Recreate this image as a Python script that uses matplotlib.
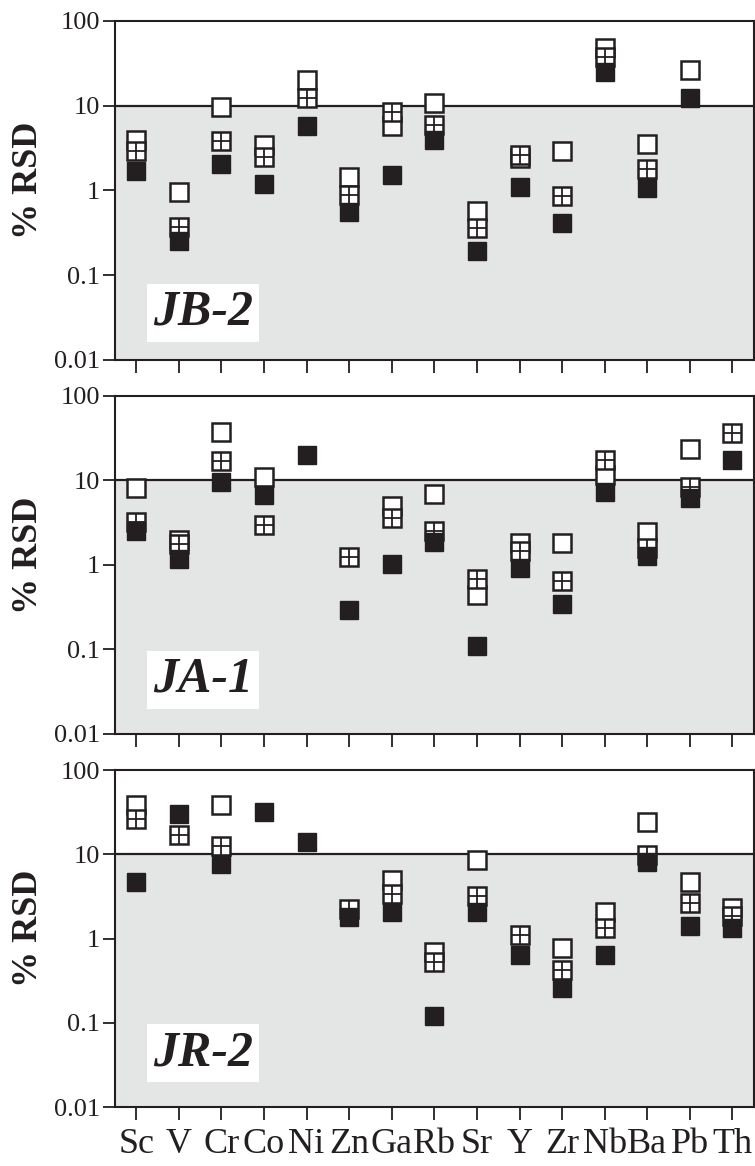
import numpy as np
import matplotlib.pyplot as plt
from matplotlib.ticker import FixedLocator, NullLocator

nan = np.nan

elements = ["Sc", "V", "Cr", "Co", "Ni", "Zn", "Ga", "Rb", "Sr", "Y", "Zr", "Nb", "Ba", "Pb", "Th"]

# %RSD per element, three symbol types (open / crossed / filled square)
jb2_open = [3.9, 0.97, 9.7, 3.4, 20.2, 1.45, 5.8, 10.8, 0.57, 2.4, 2.9, 47.7, 3.5, 26.7, nan]
jb2_plus = [2.9, 0.37, 3.8, 2.5, 12.2, 0.89, 8.4, 5.9, 0.36, 2.6, 0.85, 37.4, 1.8, nan, nan]
jb2_fill = [1.7, 0.25, 2.06, 1.19, 5.8, 0.56, 1.51, 3.9, 0.195, 1.09, 0.41, 25.0, 1.08, 12.5, nan]

ja1_open = [8.1, 2.0, 37.5, 11.0, nan, nan, 5.0, 7.0, 0.44, 1.83, 1.83, 11.5, 2.47, 23.9, nan]
ja1_plus = [3.25, 1.75, 17.2, 3.0, nan, 1.23, 3.6, 2.5, 0.68, 1.47, 0.65, 17.7, 1.6, 8.4, 36.5]
ja1_fill = [2.5, 1.18, 9.6, 6.7, 20.1, 0.29, 1.04, 1.85, 0.109, 0.93, 0.35, 7.3, 1.27, 6.2, 17.5]

jr2_open = [38.4, nan, 38.1, nan, nan, nan, 4.9, 0.69, 8.6, nan, 0.77, 2.08, 24.2, 4.65, 2.33]
jr2_plus = [26.0, 16.8, 12.6, nan, nan, 2.25, 3.4, 0.53, 3.2, 1.1, 0.42, 1.32, 9.8, 2.67, 1.87]
jr2_fill = [4.7, 30.3, 7.7, 31.5, 14.0, 1.8, 2.07, 0.12, 2.05, 0.64, 0.26, 0.63, 8.0, 1.41, 1.34]

panels = [
    ("JB-2", jb2_open, jb2_plus, jb2_fill),
    ("JA-1", ja1_open, ja1_plus, ja1_fill),
    ("JR-2", jr2_open, jr2_plus, jr2_fill),
]

INK = "#231f20"
GRAY = "#e4e5e5"
SERIF = ["Liberation Serif", "DejaVu Serif"]

plt.rcParams["font.family"] = SERIF

fig = plt.figure(figsize=(7.55, 11.66), dpi=100)
fig.patch.set_facecolor("white")

# axes rectangles in figure fractions (left, bottom, width, height)
rects = [
    (0.1523, 0.6913, 0.846, 0.2907),
    (0.1523, 0.3705, 0.846, 0.2899),
    (0.1523, 0.0506, 0.846, 0.2890),
]
label_y = [0.139, 0.16, 0.16]

x = np.arange(len(elements))
ms = 13

for i, ((name, v_open, v_plus, v_fill), rect) in enumerate(zip(panels, rects)):
    ax = fig.add_axes(rect)
    ax.set_yscale("log")
    ax.set_ylim(0.01, 100)
    ax.set_xlim(-0.5, len(elements) - 0.5)

    # shaded band below 10 %
    ax.axhspan(0.01, 10, color=GRAY, zorder=0, lw=0)
    ax.axhline(10, color=INK, lw=1.6, zorder=1)

    ax.plot(x, v_open, ls="none", marker="s", ms=ms, mfc="white", mec=INK,
            mew=1.8, zorder=3)
    ax.plot(x, v_plus, ls="none", marker="s", ms=ms, mfc="white", mec=INK,
            mew=1.8, zorder=4)
    ax.plot(x, v_plus, ls="none", marker="+", ms=ms, mec=INK, mew=1.3, zorder=4.5)
    ax.plot(x, v_fill, ls="none", marker="s", ms=ms, mfc=INK, mec=INK,
            mew=1.0, zorder=5)

    ax.text(0.1375, label_y[i], name, transform=ax.transAxes, ha="center", va="center",
            fontsize=36, fontweight="bold", fontstyle="italic", color=INK, zorder=6,
            bbox=dict(boxstyle="square,pad=0.12", fc="white", ec="none"))

    ax.yaxis.set_major_locator(FixedLocator([0.01, 0.1, 1, 10, 100]))
    ax.yaxis.set_minor_locator(NullLocator())
    ax.set_yticklabels(["0.01", "0.1", "1", "10", "100"])
    ax.set_xticks(x)
    if i == 2:
        ax.set_xticklabels(elements)
    else:
        ax.set_xticklabels([])

    ax.tick_params(axis="y", direction="out", length=9, width=1.3, pad=2,
                   labelsize=19, colors=INK)
    ax.tick_params(axis="x", direction="out", length=9, width=1.3, pad=6,
                   labelsize=26, colors=INK)
    for sp in ax.spines.values():
        sp.set_linewidth(1.5)
        sp.set_color(INK)

    ax.set_ylabel("% RSD", fontsize=26, fontweight="bold", color=INK)
    ax.yaxis.set_label_coords(-0.11, 0.53)

fig.savefig("out.png", dpi=100, facecolor="white")
